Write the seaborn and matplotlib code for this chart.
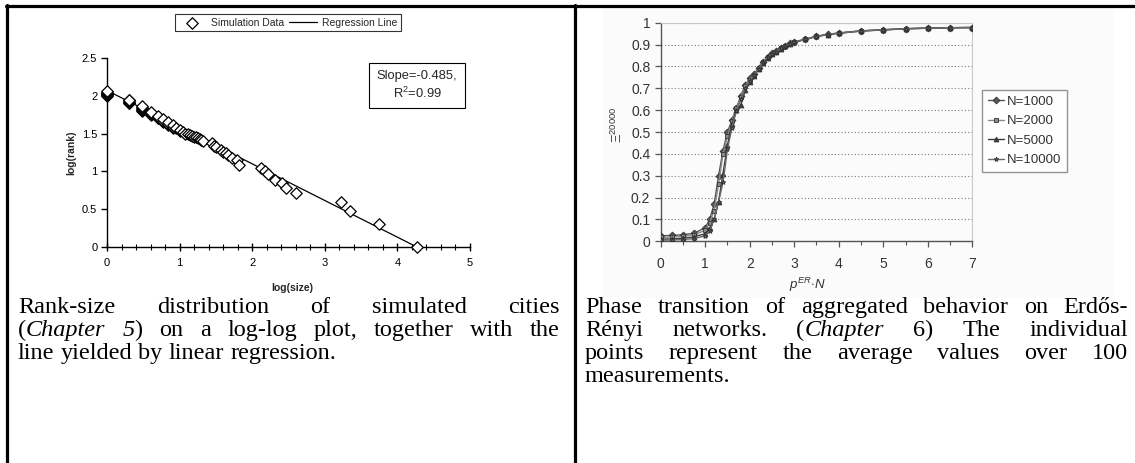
import matplotlib
matplotlib.use('Agg')
import matplotlib.pyplot as plt
from matplotlib.lines import Line2D
from matplotlib.patches import Rectangle
from matplotlib.ticker import MultipleLocator, FormatStrFormatter
import pandas as pd
import seaborn as sns

# --- left panel: rank-size of simulated cities (log10 values) ---
log_size = [0, 0, 0, 0, 0, 0, 0,
            0.301, 0.301, 0.301, 0.301, 0.301, 0.301,
            0.477, 0.477, 0.477, 0.477, 0.477, 0.477,
            0.602, 0.602, 0.602, 0.602, 0.699, 0.699, 0.699, 0.699,
            0.778, 0.778, 0.778, 0.845, 0.845, 0.845, 0.903, 0.903, 0.903,
            0.954, 1.0, 1.0, 1.041, 1.079, 1.114, 1.146, 1.176, 1.204,
            1.23, 1.255, 1.279, 1.301, 1.322, 1.447, 1.48, 1.505, 1.568, 1.60, 1.643,
            1.663, 1.716, 1.785, 1.82, 2.12, 2.17, 2.22, 2.31, 2.41, 2.46, 2.60,
            3.22, 3.35, 3.74, 4.27]
log_rank = [2.00, 2.01, 2.02, 2.03, 2.04, 2.05, 2.06,
            1.90, 1.91, 1.92, 1.93, 1.94, 1.95,
            1.80, 1.81, 1.82, 1.84, 1.85, 1.86,
            1.75, 1.76, 1.77, 1.78, 1.70, 1.71, 1.72, 1.73,
            1.66, 1.67, 1.69, 1.62, 1.63, 1.65, 1.58, 1.59, 1.61,
            1.57, 1.54, 1.55, 1.52, 1.50, 1.49, 1.48, 1.47, 1.46,
            1.45, 1.44, 1.43, 1.41, 1.40, 1.38, 1.34, 1.32, 1.28, 1.26, 1.24,
            1.22, 1.18, 1.15, 1.09, 1.05, 1.01, 0.96, 0.89, 0.85, 0.78, 0.71,
            0.60, 0.48, 0.30, 0.00]
slope = -0.485
intercept = 2.07
r_squared = 0.99
fit_range = [0.0, 4.27]

# --- right panel: phase transition on Erdos-Renyi networks ---
p_times_n = [0, 0.25, 0.5, 0.75, 1.0, 1.1, 1.2, 1.3, 1.4, 1.5, 1.6, 1.7, 1.8, 1.9,
             2.0, 2.1, 2.2, 2.3, 2.4, 2.5, 2.6, 2.7, 2.8, 2.9, 3.0, 3.25, 3.5,
             3.75, 4.0, 4.5, 5.0, 5.5, 6.0, 6.5, 7.0]
xi_n1000 = [0.025, 0.027, 0.030, 0.037, 0.062, 0.10, 0.17, 0.30, 0.415, 0.50, 0.555,
            0.61, 0.665, 0.715, 0.745, 0.765, 0.795, 0.82, 0.845, 0.86, 0.87, 0.885,
            0.895, 0.905, 0.912, 0.925, 0.938, 0.947, 0.953, 0.963, 0.968, 0.973,
            0.976, 0.977, 0.978]
xi_n2000 = [0.018, 0.020, 0.023, 0.030, 0.050, 0.085, 0.14, 0.26, 0.40, 0.48, 0.55,
            0.61, 0.66, 0.71, 0.74, 0.762, 0.792, 0.818, 0.843, 0.858, 0.868, 0.883,
            0.894, 0.904, 0.911, 0.925, 0.937, 0.946, 0.952, 0.962, 0.968, 0.972,
            0.975, 0.977, 0.978]
xi_n5000 = [0.010, 0.011, 0.014, 0.020, 0.035, 0.06, 0.10, 0.18, 0.31, 0.44, 0.535,
            0.60, 0.625, 0.69, 0.73, 0.757, 0.788, 0.815, 0.84, 0.856, 0.866, 0.881,
            0.893, 0.903, 0.910, 0.924, 0.937, 0.946, 0.952, 0.962, 0.967, 0.972,
            0.975, 0.977, 0.978]
xi_n10000 = [0.005, 0.006, 0.008, 0.012, 0.025, 0.045, 0.10, 0.18, 0.27, 0.42, 0.52,
             0.595, 0.65, 0.70, 0.735, 0.76, 0.79, 0.818, 0.842, 0.857, 0.867, 0.882,
             0.893, 0.903, 0.910, 0.924, 0.936, 0.946, 0.952, 0.962, 0.967, 0.972,
             0.975, 0.977, 0.978]
series_labels = ['N=1000', 'N=2000', 'N=5000', 'N=10000']

caption_left = ['Rank-size distribution of simulated cities',
                '(_Chapter 5_) on a log-log plot, together with the',
                'line yielded by linear regression.']
caption_right = ['Phase transition of aggregated behavior on Erdős-',
                 'Rényi networks. (_Chapter_ 6) The individual',
                 'points represent the average values over 100',
                 'measurements.']

W, H = 1135, 463
sns.set_theme(style='white')
plt.rcParams['font.family'] = ['Liberation Sans', 'DejaVu Sans']
plt.rcParams['mathtext.fontset'] = 'custom'
plt.rcParams['mathtext.rm'] = 'Liberation Sans'
plt.rcParams['mathtext.it'] = 'Liberation Sans:italic'

fig = plt.figure(figsize=(W / 100, H / 100), dpi=100)
fig.patch.set_facecolor('white')

def fx(px):
    return px / W

def fy(py):
    return 1 - py / H

# table borders
for xs, ys in [([6, W], [5.5, 5.5]), ([6.5, 6.5], [4.5, H]), ([575, 575], [4.5, H])]:
    fig.add_artist(Line2D([fx(x) for x in xs], [fy(y) for y in ys],
                          transform=fig.transFigure, color='black', lw=2.3))
# faint scanned-picture background on the right
fig.add_artist(Rectangle((fx(603), fy(298)), (1113 - 603) / W, (298 - 8) / H,
                         transform=fig.transFigure, facecolor='#fbfbfb',
                         edgecolor='none', zorder=-1))

# ---------------- left chart ----------------
ax1 = fig.add_axes([fx(107), fy(247), (470 - 107) / W, (247 - 58) / H])
ax1.set_facecolor('none')
sns.scatterplot(x=log_size, y=log_rank, marker='D', s=34, color='white',
                edgecolor='black', linewidth=0.9, ax=ax1, label='Simulation Data',
                zorder=3, clip_on=False)
fit_y = [intercept + slope * v for v in fit_range]
sns.lineplot(x=fit_range, y=fit_y, color='black', lw=0.9, ax=ax1,
             label='Regression Line', zorder=2)
ax1.set_xlim(0, 5)
ax1.set_ylim(0, 2.5)
ax1.xaxis.set_major_locator(MultipleLocator(1))
ax1.xaxis.set_minor_locator(MultipleLocator(0.2))
ax1.yaxis.set_major_locator(MultipleLocator(0.5))
ax1.yaxis.set_major_formatter(FormatStrFormatter('%g'))
ax1.xaxis.set_major_formatter(FormatStrFormatter('%g'))
for side in ['top', 'right']:
    ax1.spines[side].set_visible(False)
for side in ['left', 'bottom']:
    ax1.spines[side].set_color('black')
    ax1.spines[side].set_linewidth(1.0)
ax1.tick_params(axis='x', which='major', direction='inout', length=6, width=1,
                labelsize=8, pad=5, bottom=True, colors='black')
ax1.tick_params(axis='x', which='minor', direction='inout', length=4, width=0.8,
                bottom=True, colors='black')
ax1.tick_params(axis='y', which='major', direction='out', length=4, width=1,
                labelsize=8, pad=3, left=True, colors='black')
ax1.set_xlabel('')
ax1.set_ylabel('')
fig.text(fx(292), fy(288), 'log(size)', ha='center', va='center',
         fontsize=7.5, fontweight='bold')
fig.text(fx(71), fy(153), 'log(rank)', ha='center', va='center', rotation=90,
         fontsize=7.5, fontweight='bold')
ax1.legend(loc='center', bbox_to_anchor=(fx(288), fy(22.5)),
           bbox_transform=fig.transFigure, ncol=2, frameon=True, fancybox=False,
           edgecolor='black', fontsize=7.5, handlelength=2.6, borderpad=0.35,
           columnspacing=0.5, handletextpad=0.5, borderaxespad=0)
ax1.get_legend().get_frame().set_linewidth(0.8)
fig.text(fx(417), fy(85.5), f'Slope={slope},\nR$^2$={r_squared}', ha='center',
         va='center', fontsize=9.3, multialignment='center', linespacing=1.25,
         bbox=dict(boxstyle='square,pad=0.6', facecolor='white',
                   edgecolor='black', linewidth=0.8))

# ---------------- right chart ----------------
ax2 = fig.add_axes([fx(660.7), fy(241.3), (972.3 - 660.7) / W, (241.3 - 22.7) / H])
ax2.set_facecolor('none')
df = pd.DataFrame({'p': p_times_n * 4,
                   'xi': xi_n1000 + xi_n2000 + xi_n5000 + xi_n10000,
                   'series': [s for s in series_labels for _ in p_times_n]})
sns.lineplot(data=df, x='p', y='xi', hue='series', style='series',
             markers=['D', 's', '^', '*'], dashes=False,
             palette=['#555555', '#8a8a8a', '#3a3a3a', '#6a6a6a'],
             markersize=3.5, linewidth=1.0, markeredgecolor='#333333',
             markeredgewidth=0.6, ax=ax2, zorder=3)
ax2.set_xlim(0, 7)
ax2.set_ylim(0, 1)
ax2.xaxis.set_major_locator(MultipleLocator(1))
ax2.xaxis.set_minor_locator(MultipleLocator(0.5))
ax2.yaxis.set_major_locator(MultipleLocator(0.1))
ax2.yaxis.set_major_formatter(FormatStrFormatter('%g'))
ax2.yaxis.grid(True, linestyle=(0, (1, 2)), color='#7a7a7a', linewidth=0.8)
ax2.xaxis.grid(False)
for side in ['top', 'right']:
    ax2.spines[side].set_color('#c8c8c8')
    ax2.spines[side].set_linewidth(0.8)
for side in ['left', 'bottom']:
    ax2.spines[side].set_color('#555555')
    ax2.spines[side].set_linewidth(1.0)
ax2.tick_params(axis='both', which='major', direction='out', length=4, width=0.9,
                labelsize=10, colors='#555555', labelcolor='#333333',
                left=True, bottom=True)
ax2.tick_params(axis='x', which='minor', direction='out', length=3, width=0.8,
                colors='#555555', bottom=True)
ax2.tick_params(axis='x', pad=7)
ax2.set_xlabel('')
ax2.set_ylabel('')
fig.text(fx(808), fy(285), r'$p^{ER}\!\cdot\!N$', ha='center', va='center',
         fontsize=9.5, color='#333333')
fig.text(fx(617), fy(125), r'$\Xi^{20000}$', ha='center', va='center',
         rotation=90, fontsize=9.5, color='#333333')
h, l = ax2.get_legend_handles_labels()
ax2.legend(h, l, loc='center', bbox_to_anchor=(fx(1024.5), fy(131)),
           bbox_transform=fig.transFigure, frameon=True, fancybox=False,
           edgecolor='#7a7a7a', fontsize=9.5, handlelength=1.2, borderpad=0.4,
           labelspacing=0.55, handletextpad=0.25, borderaxespad=0,
           labelcolor='#333333')
ax2.get_legend().get_frame().set_linewidth(1.0)

# ---------------- captions (justified, Times-like) ----------------
CAP_FS = 17.5
renderer = fig.canvas.get_renderer()

def parse(line):
    words, italic = [], False
    for token in line.split(' '):
        segs = []
        for k, piece in enumerate(token.split('_')):
            if k > 0:
                italic = not italic
            if piece:
                segs.append((piece, italic))
        words.append(segs)
    return words

def measure(text, italic=False):
    t = fig.text(0, 0, text, fontsize=CAP_FS, family='Liberation Serif',
                 style='italic' if italic else 'normal')
    w = t.get_window_extent(renderer).width
    t.remove()
    return w

space_w = measure('a a') - measure('aa')

def caption(lines, x0, x1, baselines):
    for i, line in enumerate(lines):
        words = parse(line)
        widths = [sum(measure(p, it) for p, it in wd) for wd in words]
        last = i == len(lines) - 1
        if last or len(words) < 2:
            gap = space_w
        else:
            gap = (x1 - x0 - sum(widths)) / (len(words) - 1)
        x = x0
        for wd, ww in zip(words, widths):
            xs = x
            for piece, it in wd:
                fig.text(fx(xs), fy(baselines[i]), piece, fontsize=CAP_FS,
                         family='Liberation Serif', va='baseline', ha='left',
                         style='italic' if it else 'normal', color='black')
                xs += measure(piece, it)
            x += ww + gap

caption(caption_left, 18, 560, [313, 336, 359])
caption(caption_right, 585, 1128, [313, 336, 359, 382])

fig.savefig('out.png', dpi=100, facecolor='white')
